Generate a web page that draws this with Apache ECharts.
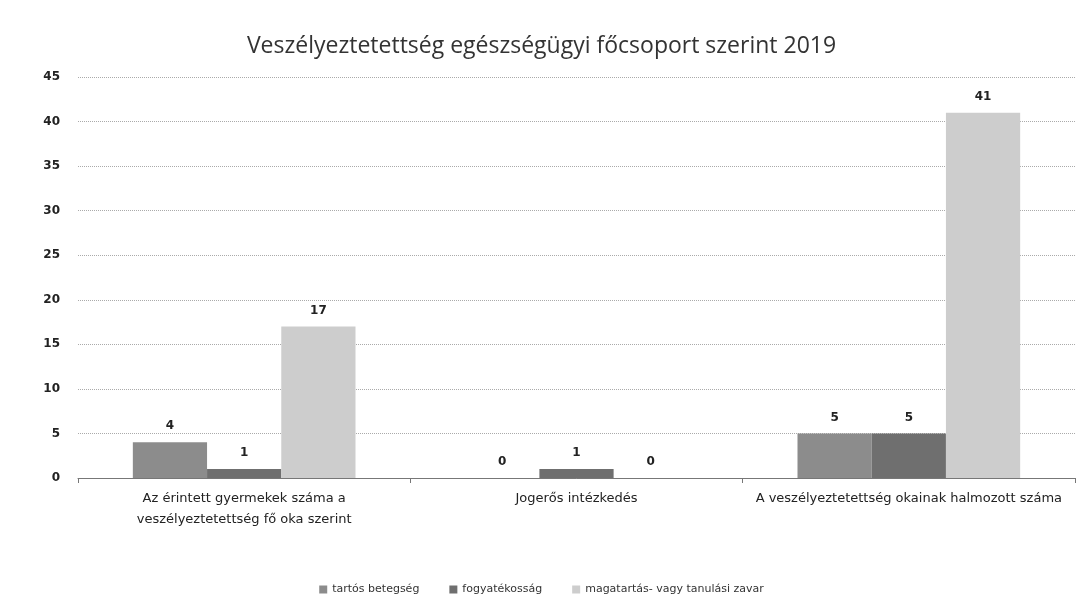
<!DOCTYPE html>
<html>
<head>
<meta charset="utf-8">
<script src="https://cdn.jsdelivr.net/npm/echarts@6/dist/echarts.min.js"></script>
<style>
  html, body { margin: 0; padding: 0; background: #fff; }
  #chart { width: 1083px; height: 612px; }
</style>
</head>
<body>
<div id="chart"></div>
<script>
const categories = [
  'Az érintett gyermekek száma a\nveszélyeztetettség fő oka szerint',
  'Jogerős intézkedés',
  'A veszélyeztetettség okainak halmozott száma'
]
const seriesNames = ['tartós betegség', 'fogyatékosság', 'magatartás- vagy tanulási zavar']
const tartosBetegseg = [4, 0, 5]
const fogyatekossag = [1, 1, 5]
const magatartas = [17, 0, 41]

const colors = ['#8c8c8c', '#6f6f6f', '#cdcdcd']

const chart = echarts.init(document.getElementById('chart'))

const makeSeries = (name, data, i) => ({
  name: name,
  type: 'bar',
  data: data,
  barGap: '0%',
  barCategoryGap: '33%',
  itemStyle: { color: colors[i] },
  label: {
    show: true,
    position: 'top',
    distance: 10,
    color: '#222',
    fontSize: 12,
    fontWeight: 'bold',
    fontFamily: 'DejaVu Sans'
  }
})

chart.setOption({
  animation: false,
  title: {
    text: 'Veszélyeztetettség egészségügyi főcsoport szerint 2019',
    left: 'center',
    top: 30,
    textStyle: {
      fontSize: 23,
      fontWeight: 'normal',
      color: '#333',
      fontFamily: 'Open Sans'
    }
  },
  legend: {
    bottom: 12,
    left: 'center',
    itemWidth: 8,
    itemHeight: 8,
    itemGap: 30,
    icon: 'rect',
    textStyle: { fontSize: 11, color: '#333', fontFamily: 'DejaVu Sans' },
    data: seriesNames
  },
  grid: {
    left: 78,
    right: 8,
    top: 77,
    bottom: 134
  },
  xAxis: {
    type: 'category',
    data: categories,
    axisLine: { lineStyle: { color: '#777' } },
    axisTick: { show: true, alignWithLabel: false, lineStyle: { color: '#777' } },
    axisLabel: {
      interval: 0,
      color: '#222',
      fontSize: 13,
      lineHeight: 21,
      fontFamily: 'DejaVu Sans',
      margin: 10
    }
  },
  yAxis: {
    type: 'value',
    min: 0,
    max: 45,
    interval: 5,
    axisLine: { show: false },
    axisTick: { show: false },
    axisLabel: {
      color: '#222',
      fontSize: 12,
      fontWeight: 'bold',
      fontFamily: 'DejaVu Sans',
      margin: 18
    },
    splitLine: { lineStyle: { color: '#aaa', type: 'dotted' } }
  },
  series: [
    makeSeries(seriesNames[0], tartosBetegseg, 0),
    makeSeries(seriesNames[1], fogyatekossag, 1),
    makeSeries(seriesNames[2], magatartas, 2)
  ]
})
</script>
</body>
</html>
